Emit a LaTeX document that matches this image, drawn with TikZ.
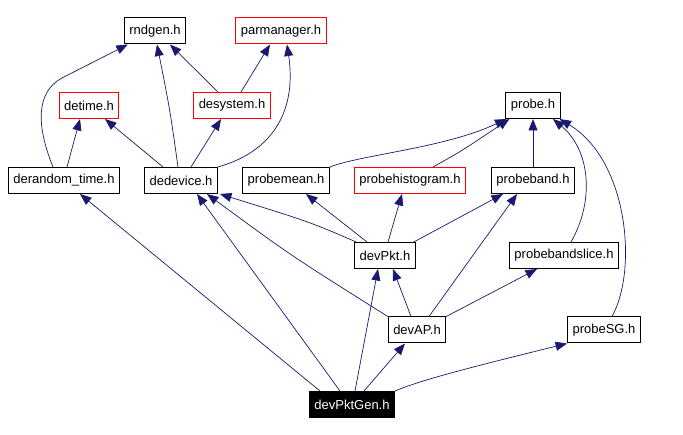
\documentclass[tikz,border=0pt]{standalone}
\usepackage{fontspec}
\setmainfont{Liberation Sans}
\usetikzlibrary{arrows.meta}
\definecolor{edgeblue}{HTML}{191970}
\begin{document}
\begin{tikzpicture}[x=1pt, y=-1pt,
  hdr/.style={draw=black, fill=white, line width=1pt, inner xsep=5pt, inner ysep=0pt, minimum height=26pt, font=\fontsize{13}{15}\selectfont},
  hdrred/.style={hdr, draw=red},
  hdrroot/.style={hdr, fill=black, text=white},
  inc/.style={edgeblue, line width=0.7pt, -{Triangle[length=11.5pt,width=9pt]}}]
\useasboundingbox (0,0) rectangle (683,435);
% -- row 0 --
\node[hdr] (rndgen) at (155,31) {rndgen.h};
\node[hdrred] (parmanager) at (281,31) {parmanager.h};
% -- row 1 --
\node[hdrred] (detime) at (89,105.5) {detime.h};
\node[hdrred] (desystem) at (232,105.5) {desystem.h};
\node[hdr] (probe) at (533,105.5) {probe.h};
% -- row 2 --
\node[hdr] (derandom) at (64,180.5) {derandom\_time.h};
\node[hdr] (dedevice) at (181,180.5) {dedevice.h};
\node[hdr] (probemean) at (286,180.5) {probemean.h};
\node[hdrred] (probehist) at (410,180.5) {probehistogram.h};
\node[hdr] (probeband) at (533,180.5) {probeband.h};
% -- row 3 --
\node[hdr] (devPkt) at (385,255.5) {devPkt.h};
\node[hdr] (probebandslice) at (564,255.5) {probebandslice.h};
% -- row 4 --
\node[hdr] (devAP) at (417,330) {devAP.h};
\node[hdr] (probeSG) at (604,330) {probeSG.h};
% -- row 5 --
\node[hdrroot] (devPktGen) at (352,404.5) {devPktGen.h};
% -- includes of row 1 and 2 --
\draw[inc] ([xshift=-11]derandom.north) .. controls (36,125) and (36,92) .. (62,78) -- ([xshift=4]rndgen.south west);
\draw[inc] ([xshift=3]derandom.north) -- ([xshift=-9]detime.south);
\draw[inc] ([xshift=-18]dedevice.north) -- ([xshift=16]detime.south);
\draw[inc] ([xshift=-3]dedevice.north) .. controls (170,110) .. ([xshift=2]rndgen.south);
\draw[inc] ([xshift=10]dedevice.north) -- ([xshift=-11]desystem.south);
\draw[inc] (dedevice.north east) .. controls (278,150) and (296,105) .. ([xshift=6]parmanager.south);
\draw[inc] ([xshift=-14]desystem.north) -- ([xshift=15]rndgen.south);
\draw[inc] ([xshift=9]desystem.north) -- ([xshift=-11]parmanager.south);
\draw[inc] (probemean.north east) .. controls (360,155) and (445,148) .. ([xshift=1]probe.south west);
\draw[inc] ([xshift=23]probehist.north) .. controls (460,152) .. ([xshift=4]probe.south west);
\draw[inc] (probeband.north) -- (probe.south);
\draw[inc] ([xshift=7]probebandslice.north) .. controls (595,200) and (590,150) .. ([xshift=20]probe.south);
\draw[inc] ([xshift=8]probeSG.north) .. controls (638,270) and (628,160) .. ([xshift=-1]probe.south east);
% -- includes of devPkt and devAP --
\draw[inc] ([xshift=2]devPkt.north west) .. controls (310,222) .. ([xshift=2]dedevice.south east);
\draw[inc] ([xshift=-18]devPkt.north) -- ([xshift=20]probemean.south);
\draw[inc] ([xshift=3]devPkt.north) -- ([xshift=-8]probehist.south);
\draw[inc] ([xshift=-2]devPkt.north east) -- ([xshift=-30]probeband.south);
\draw[inc] (devAP.north west) .. controls (290,255) .. ([xshift=26]dedevice.south);
\draw[inc] ([xshift=-6]devAP.north) -- ([xshift=8]devPkt.south);
\draw[inc] ([xshift=12]devAP.north) -- ([xshift=-16]probeband.south);
\draw[inc] (devAP.north east) -- ([xshift=-27]probebandslice.south);
% -- includes of devPktGen --
\draw[inc] ([xshift=-32]devPktGen.north) -- ([xshift=16]derandom.south);
\draw[inc] ([xshift=-12]devPktGen.north) -- ([xshift=16]dedevice.south);
\draw[inc] ([xshift=3]devPktGen.north) -- ([xshift=-7]devPkt.south);
\draw[inc] ([xshift=12]devPktGen.north) -- ([xshift=-12]devAP.south);
\draw[inc] (devPktGen.north east) .. controls (420,380) and (480,365) .. (probeSG.south west);
\end{tikzpicture}
\end{document}
